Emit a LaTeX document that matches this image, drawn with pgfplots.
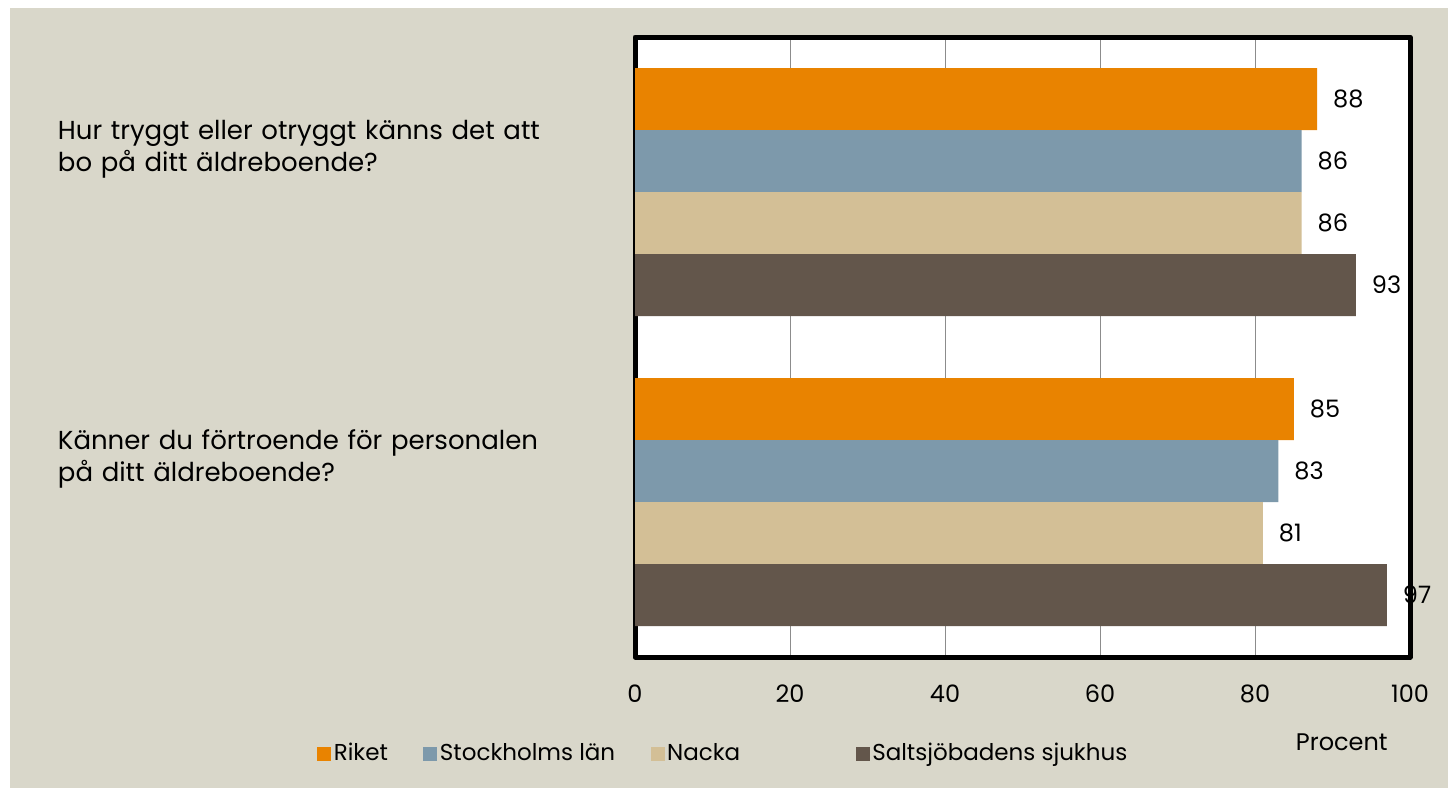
\documentclass[border=0pt]{standalone}
\usepackage{fontspec}
\setmainfont{Poppins}
\usepackage{pgfplots}
\pgfplotsset{compat=1.18}
\definecolor{bg}{HTML}{D9D7CA}
\definecolor{cOr}{HTML}{E98300}
\definecolor{cBl}{HTML}{7D99AB}
\definecolor{cTa}{HTML}{D3BF96}
\definecolor{cBr}{HTML}{63564B}
\definecolor{cGr}{HTML}{8C8C8C}
\begin{document}
\fontsize{24bp}{32bp}\selectfont
\begin{tikzpicture}
\fill[white] (0,0) rectangle (1448bp,-788bp);
\fill[bg] (10bp,-8bp) rectangle (1448bp,-788bp);
\begin{axis}[
  at={(635bp,-37bp)}, anchor=north west,
  scale only axis, width=775bp, height=620bp,
  xmin=0, xmax=100, ymin=0.5, ymax=2.5,
  xbar, bar width=62bp,
  axis background/.style={fill=white},
  axis line style={line width=5bp, black, line join=round},
  xmajorgrids, major grid style={cGr, line width=1bp},
  xtick={0,20,40,60,80,100},
  tick style={draw=none},
  /pgf/number format/assume math mode=true,
  xticklabel style={font=\fontsize{24bp}{28bp}\selectfont, yshift=-20bp},
  ytick={1,2},
  yticklabels={{Känner du förtroende för personalen\\på ditt äldreboende?},{Hur tryggt eller otryggt känns det att\\bo på ditt äldreboende?}},
  yticklabel style={anchor=west, align=left, text width=560bp, inner sep=0pt, xshift=-573bp, yshift=43bp, font=\fontsize{26bp}{32bp}\selectfont},
  xlabel={Procent},
  xlabel style={at={(rel axis cs:0.912,-0.137)}, anchor=center, font=\fontsize{24bp}{28bp}\selectfont},
  nodes near coords,
  every node near coord/.append style={anchor=west, inner sep=0pt, xshift=16bp, font=\fontsize{24bp}{28bp}\selectfont, black},
  legend columns=4,
  legend style={draw=none, fill=none, at={(rel axis cs:-0.414,-0.156)}, anchor=west,
    font=\fontsize{23bp}{28bp}\selectfont,
    nodes={inner sep=2.5bp},
    /tikz/every even column/.append style={column sep=33bp}},
  legend image code/.code={\fill[#1] (0bp,-7bp) rectangle (14bp,7bp);},
  clip=false,
]
\addplot[fill=cOr, draw=none, bar shift=93bp] coordinates {(88,2) (85,1)};
\addplot[fill=cBl, draw=none, bar shift=31bp] coordinates {(86,2) (83,1)};
\addplot[fill=cTa, draw=none, bar shift=-31bp] coordinates {(86,2) (81,1)};
\addplot[fill=cBr, draw=none, bar shift=-93bp] coordinates {(93,2) (97,1)};
\legend{Riket, Stockholms län, Nacka\hspace*{80bp}, Saltsjöbadens sjukhus}
\end{axis}
\end{tikzpicture}
\end{document}
